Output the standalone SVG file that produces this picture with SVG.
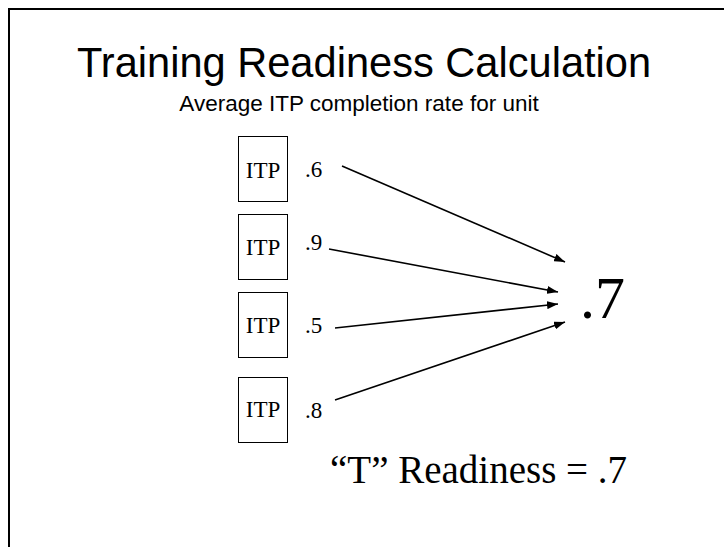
<svg xmlns="http://www.w3.org/2000/svg" width="724" height="547" viewBox="0 0 724 547">
<style>
.sans{font-family:"Liberation Sans",Arial,sans-serif;fill:#000}
.serif{font-family:"Liberation Serif","Times New Roman",serif;fill:#000}
.box{fill:#fff;stroke:#000;stroke-width:1}
.conn{stroke:#000;stroke-width:1.6;fill:none}
</style>
<defs>
<marker id="ah" viewBox="0 0 11 8" refX="11" refY="4" markerWidth="11" markerHeight="8" markerUnits="userSpaceOnUse" orient="auto">
<path d="M0,0 L11,4 L0,8 Z" fill="#000"/>
</marker>
</defs>
<rect width="724" height="547" fill="#fff"/>
<path d="M9,547 V9 H724" fill="none" stroke="#000" stroke-width="2"/>
<g id="title">
<text class="sans" x="364" y="77" font-size="41.6" text-anchor="middle">Training Readiness Calculation</text>
<text class="sans" x="359" y="111" font-size="22.5" text-anchor="middle">Average ITP completion rate for unit</text>
</g>
<g id="itp1"><rect class="box" x="238.5" y="136.5" width="49" height="65"/><text class="serif" x="263" y="178" font-size="23" text-anchor="middle">ITP</text><text class="serif" x="305" y="177" font-size="23">.6</text></g>
<g id="itp2"><rect class="box" x="238.5" y="214.5" width="49" height="65"/><text class="serif" x="263" y="255" font-size="23" text-anchor="middle">ITP</text><text class="serif" x="305" y="250" font-size="23">.9</text></g>
<g id="itp3"><rect class="box" x="238.5" y="292.5" width="49" height="65"/><text class="serif" x="263" y="333" font-size="23" text-anchor="middle">ITP</text><text class="serif" x="305" y="333" font-size="23">.5</text></g>
<g id="itp4"><rect class="box" x="238.5" y="377.5" width="49" height="65"/><text class="serif" x="263" y="417" font-size="23" text-anchor="middle">ITP</text><text class="serif" x="305" y="418" font-size="23">.8</text></g>
<g id="result"><text class="serif" x="580" y="318" font-size="60">.7</text></g>
<g id="connectors">
<line class="conn" x1="342" y1="166" x2="565" y2="262" stroke-width="2.4" marker-end="url(#ah)"/>
<line class="conn" x1="329" y1="249" x2="558" y2="292" marker-end="url(#ah)"/>
<line class="conn" x1="335" y1="328" x2="558" y2="304" marker-end="url(#ah)"/>
<line class="conn" x1="335" y1="400" x2="565" y2="322" marker-end="url(#ah)"/>
</g>
<g id="summary"><text class="serif" x="330" y="483" font-size="39">“T” Readiness = .7</text></g>
</svg>
